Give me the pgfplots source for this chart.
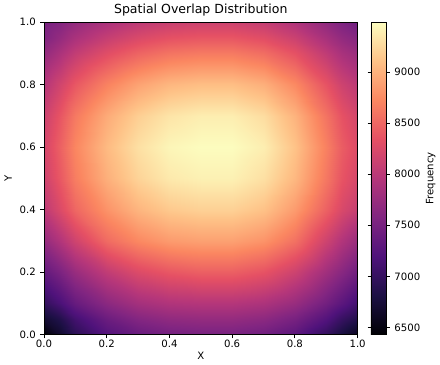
\documentclass[border=0pt]{standalone}
\usepackage{pgfplots}
\pgfplotsset{compat=1.18}
\usepackage{pgfplotstable}
\usepackage{fontspec}
\setmainfont{DejaVu Sans}
\pgfplotstableread{
x y z
0 0 6430
0.05 0 6675
0.1 0 6920
0.2 0 7226
0.3 0 7379
0.4 0 7470
0.5 0 7501
0.6 0 7501
0.7 0 7440
0.8 0 7287
0.9 0 6981
0.95 0 6767
1 0 6583
0 0.05 6705
0.05 0.05 6858
0.1 0.05 7103
0.2 0.05 7409
0.3 0.05 7593
0.4 0.05 7685
0.5 0.05 7715
0.6 0.05 7715
0.7 0.05 7654
0.8 0.05 7501
0.9 0.05 7226
0.95 0.05 7011
1 0.05 6858
0 0.1 6981
0.05 0.1 7164
0.1 0.1 7379
0.2 0.1 7654
0.3 0.1 7838
0.4 0.1 7929
0.5 0.1 7960
0.6 0.1 7960
0.7 0.1 7899
0.8 0.1 7746
0.9 0.1 7470
0.95 0.1 7287
1 0.1 7103
0 0.2 7348
0.05 0.2 7532
0.1 0.2 7746
0.2 0.2 8052
0.3 0.2 8266
0.4 0.2 8388
0.5 0.2 8450
0.6 0.2 8450
0.7 0.2 8358
0.8 0.2 8144
0.9 0.2 7807
0.95 0.2 7623
1 0.2 7440
0 0.3 7715
0.05 0.3 7929
0.1 0.3 8160
0.2 0.3 8530
0.3 0.3 8730
0.4 0.3 8850
0.5 0.3 8890
0.6 0.3 8890
0.7 0.3 8800
0.8 0.3 8570
0.9 0.3 8150
0.95 0.3 7929
1 0.3 7746
0 0.4 8027
0.05 0.4 8260
0.1 0.4 8500
0.2 0.4 8800
0.3 0.4 9020
0.4 0.4 9150
0.5 0.4 9200
0.6 0.4 9200
0.7 0.4 9100
0.8 0.4 8850
0.9 0.4 8460
0.95 0.4 8230
1 0.4 8082
0 0.5 8153
0.05 0.5 8400
0.1 0.5 8660
0.2 0.5 8990
0.3 0.5 9220
0.4 0.5 9360
0.5 0.5 9410
0.6 0.5 9410
0.7 0.5 9300
0.8 0.5 9040
0.9 0.5 8620
0.95 0.5 8370
1 0.5 8211
0 0.6 8205
0.05 0.6 8460
0.1 0.6 8720
0.2 0.6 9060
0.3 0.6 9300
0.4 0.6 9440
0.5 0.6 9485
0.6 0.6 9485
0.7 0.6 9390
0.8 0.6 9110
0.9 0.6 8680
0.95 0.6 8430
1 0.6 8266
0 0.7 8134
0.05 0.7 8380
0.1 0.7 8630
0.2 0.7 8960
0.3 0.7 9190
0.4 0.7 9330
0.5 0.7 9390
0.6 0.7 9390
0.7 0.7 9280
0.8 0.7 9010
0.9 0.7 8590
0.95 0.7 8349
1 0.7 8193
0 0.8 7957
0.05 0.8 8175
0.1 0.8 8390
0.2 0.8 8690
0.3 0.8 8900
0.4 0.8 9030
0.5 0.8 9080
0.6 0.8 9080
0.7 0.8 8980
0.8 0.8 8735
0.9 0.8 8360
0.95 0.8 8145
1 0.8 8009
0 0.9 7709
0.05 0.9 7884
0.1 0.9 8061
0.2 0.9 8303
0.3 0.9 8480
0.4 0.9 8590
0.5 0.9 8633
0.6 0.9 8633
0.7 0.9 8545
0.8 0.9 8346
0.9 0.9 8040
0.95 0.9 7862
1 0.9 7752
0 0.95 7565
0.05 0.95 7721
0.1 0.95 7880
0.2 0.95 8095
0.3 0.95 8251
0.4 0.95 8349
0.5 0.95 8388
0.6 0.95 8388
0.7 0.95 8309
0.8 0.95 8134
0.9 0.95 7859
0.95 0.95 7703
1 0.95 7605
0 1 7500
0.05 1 7590
0.1 1 7710
0.2 1 7887
0.3 1 8024
0.4 1 8110
0.5 1 8144
0.6 1 8144
0.7 1 8076
0.8 1 7920
0.9 1 7682
0.95 1 7544
1 1 7430
}\datatable
\begin{document}
\begin{tikzpicture}
\begin{axis}[
  width=235.5pt, height=234.75pt, scale only axis,
  view={0}{90},
  xmin=0, xmax=1, ymin=0, ymax=1,
  xtick={0,0.2,0.4,0.6,0.8,1}, ytick={0,0.2,0.4,0.6,0.8,1},
  /pgf/number format/assume math mode=true,
  /pgf/number format/1000 sep={},
  xticklabel style={yshift=1.8pt, /pgf/number format/.cd,fixed,fixed zerofill,precision=1},
  yticklabel style={/pgf/number format/.cd,fixed,fixed zerofill,precision=1},
  tick label style={font=\fontsize{7.6}{9}\selectfont},
  label style={font=\fontsize{7.6}{9}\selectfont},
  xlabel style={yshift=3.5pt},
  ylabel style={yshift=-1pt},
  title style={font=\fontsize{9.4}{10}\selectfont, yshift=-5.5pt},
  title={Spatial Overlap Distribution},
  xlabel={X}, ylabel={Y},
  tick align=outside, major tick length=2.6pt,
  xtick pos=left, ytick pos=left,
  axis line style={black, line width=0.6pt},
  every tick/.style={black, line width=0.6pt},
  colormap={magma}{rgb255=(0,0,4) rgb255=(28,16,68) rgb255=(79,18,123) rgb255=(129,37,129) rgb255=(181,54,122) rgb255=(229,80,100) rgb255=(251,135,97) rgb255=(254,194,135) rgb255=(252,253,191)},
  point meta min=6430, point meta max=9490,
  colorbar,
  colorbar style={
    width=11.5pt,
    at={(parent axis.north east)}, anchor=north west, xshift=1.5pt,
    ytick={6500,7000,7500,8000,8500,9000},
    /pgf/number format/1000 sep={},
    /pgf/number format/assume math mode=true,
    tick label style={font=\fontsize{7.6}{9}\selectfont},
    ylabel={Frequency},
    ylabel style={font=\fontsize{7.6}{9}\selectfont, yshift=2.5pt},
    tick align=outside, major tick length=2.6pt,
    axis line style={black, line width=0.6pt},
    every tick/.style={black, line width=0.6pt},
  },
]
\addplot3[surf, shader=interp, mesh/cols=13, mesh/ordering=x varies] table[x=x, y=y, z=z, meta=z] {\datatable};
\end{axis}
\end{tikzpicture}
\end{document}
